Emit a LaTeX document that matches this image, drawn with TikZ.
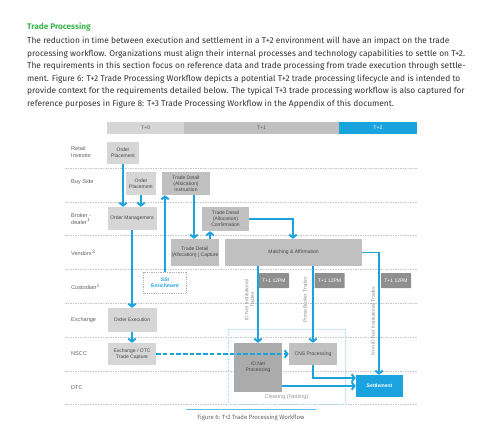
\documentclass[tikz,border=0pt]{standalone}
\usepackage{fontspec}
\setmainfont{Fira Sans}
\newfontfamily\diagfont{Liberation Sans}
\usetikzlibrary{arrows.meta}
\definecolor{flowblue}{HTML}{1BA3DF}
\definecolor{boxgray}{HTML}{D6D6D6}
\definecolor{midgray}{HTML}{C0C0C0}
\definecolor{darkgray}{HTML}{8F8F8F}
\definecolor{idgray}{HTML}{ABABAB}
\definecolor{titlegreen}{HTML}{3BB44A}
\definecolor{textgray}{HTML}{333333}
\tikzstyle{lanebox}=[fill=boxgray, inner sep=1pt, align=center, text=black!72, font=\diagfont\fontsize{5}{6}\selectfont]
\tikzstyle{detailbox}=[lanebox, fill=midgray]
\tikzstyle{timebox}=[inner sep=0pt, minimum height=12pt, text=black!65, font=\diagfont\fontsize{5.2}{6}\selectfont]
\tikzstyle{noonbox}=[lanebox, fill=darkgray, text=white, minimum width=30pt, minimum height=15pt, rounded corners=0.5pt]
\tikzstyle{lanelabel}=[anchor=west, align=left, inner sep=0pt, text=black!62, font=\diagfont\fontsize{5.6}{6.6}\selectfont]
\tikzstyle{flowtag}=[rotate=90, align=center, inner sep=0pt, text=black!45, font=\diagfont\fontsize{5}{5.8}\selectfont]
\tikzstyle{flow}=[draw=flowblue, line width=1.9pt, -{Straight Barb[length=3pt,width=7.5pt]}]
\tikzstyle{lanesep}=[draw=black!22, dashed, dash pattern=on 1.5pt off 1pt, line width=0.45pt]
\newcommand{\lane}{\node[lanebox]}
\newcommand{\detail}{\node[detailbox]}
\newcommand{\noon}{\node[noonbox]}

\begin{document}
\begin{tikzpicture}[x=1pt,y=-1pt]
\useasboundingbox (0,0) rectangle (500,434);

% heading and text
\node[anchor=west, inner sep=0pt, text=titlegreen, font=\bfseries\fontsize{8.2}{9}\selectfont] (title) at (27,27) {Trade Processing};
\node[anchor=north west, inner sep=0pt, align=left, text=textgray, font=\fontsize{8.4}{12.5}\selectfont] (para) at (27,37) {The reduction in time between execution and settlement in a T+2 environment will have an impact on the trade\\
processing workflow. Organizations must align their internal processes and technology capabilities to settle on T+2.\\
The requirements in this section focus on reference data and trade processing from trade execution through settle-\\
ment. Figure 6: T+2 Trade Processing Workflow depicts a potential T+2 trade processing lifecycle and is intended to\\
provide context for the requirements detailed below. The typical T+3 trade processing workflow is also captured for\\
reference purposes in Figure 8: T+3 Trade Processing Workflow in the Appendix of this document.};

% time line
\node[timebox, fill=boxgray, minimum width=77pt] (t0) at (145.5,128) {T+0};
\node[timebox, fill=midgray, minimum width=155pt] (t1) at (261.5,128) {T+1};
\node[timebox, fill=flowblue, text=white, minimum width=78pt] (t2) at (378,128) {T+2};

% lanes
\foreach \y in {168,202,235,269,303,337,371,404}
  \draw[lanesep] (65,\y) -- (417,\y);
\node[lanelabel] (lretail) at (71,152) {Retail\\Investor};
\node[lanelabel] (lbuy) at (71,182) {Buy Side};
\node[lanelabel] (lbroker) at (71,219) {Broker -\\dealer$^{1}$};
\node[lanelabel] (lvendor) at (71,253) {Vendors$^{2}$};
\node[lanelabel] (lcust) at (71,287) {Custodian$^{1}$};
\node[lanelabel] (lexch) at (71,320) {Exchange};
\node[lanelabel] (lnscc) at (71,354) {NSCC};
\node[lanelabel] (ldtc) at (71,388) {DTC};

% clearing
\node[draw=flowblue!35, densely dotted, line width=0.6pt, minimum width=117pt, minimum height=75pt] (clr) at (286.5,366.5) {};
\node[inner sep=0pt, text=black!40, font=\diagfont\fontsize{5.6}{6.6}\selectfont] (clrtxt) at ([yshift=7pt]clr.south) {Clearing (Netting)};

% boxes
\lane (rop) [minimum width=32pt, minimum height=22pt] at (123,153) {Order\\Placement};
\lane (bop) [minimum width=30pt, minimum height=23pt] at (141,183.5) {Order\\Placement};
\detail (tdi) [minimum width=48pt, minimum height=23pt] at (186,183.5) {Trade Detail\\(Allocation)\\Instruction};
\lane (om) [minimum width=49pt, minimum height=23pt] at (132,218.5) {Order Management};
\detail (tdc) [minimum width=47pt, minimum height=24pt] at (225.5,219) {Trade Detail\\(Allocation)\\Confirmation};
\detail (tdcap) [minimum width=48pt, minimum height=27pt] at (195,252.5) {Trade Detail\\(Allocation) | Capture};
\detail (ma) [minimum width=137pt, minimum height=27pt] at (293.5,252.5) {Matching \& Affirmation};
\node[draw=black!30, dashed, dash pattern=on 1pt off 0.8pt, line width=0.4pt, fill=white, align=center, text=flowblue, font=\diagfont\bfseries\fontsize{5}{6}\selectfont, minimum width=43pt, minimum height=21pt] (ssi) at (165,282.5) {SSI\\Enrichment};
\noon (noona) at (274,280.5) {T+1 12PM};
\noon (noonb) at (329.5,280.5) {T+1 12PM};
\noon (noonc) at (396,280.5) {T+1 12PM};
\lane (oe) [minimum width=49pt, minimum height=24pt] at (132,320) {Order Execution};
\lane (otc) [minimum width=48pt, minimum height=22pt] at (132,354) {Exchange / OTC\\Trade Capture};
\node[lanebox, fill=idgray, minimum width=48pt, minimum height=49pt] (idn) at (258,367.5) {ID Net\\Processing};
\detail (cns) [minimum width=48pt, minimum height=22pt] at (313,354) {CNS Processing};
\node[lanebox, fill=flowblue, text=white, font=\diagfont\bfseries\fontsize{5}{6}\selectfont, minimum width=47pt, minimum height=22pt] (set) at (379.5,386) {Settlement};

% flows
\path[flow] (rop.south) -- (rop.south |- om.north);
\path[flow] (bop.south) -- (bop.south |- om.north);
\path[flow] (ssi.north) -- (ssi.north |- tdi.south);
\path[flow] ([xshift=8pt]tdi.south) -- ([xshift=8pt]tdi.south |- tdcap.north);
\path[flow] ([xshift=15pt]tdcap.north) -- ([xshift=15pt]tdcap.north |- tdc.south);
\path[flow] (tdc.east) -| ([xshift=-0.5pt]ma.north);
\path[flow] (om.south) -- (oe.north);
\path[flow] (oe.south) -- (otc.north);
\path[flow, dashed, dash pattern=on 4.5pt off 2.2pt] (otc.east) -- (cns.west);
\path[flow] (idn.north |- ma.south) -- (idn.north);
\path[flow] (cns.north |- ma.south) -- (cns.north);
\path[flow] (ma.east) -| ([xshift=-0.5pt]set.north);
\path[flow] (cns.south) |- ([yshift=8pt]set.west);
\path[flow] (idn.east |- set.west) -- (set.west);

% flow tags
\node[flowtag] (tagid) at (249.5,300) {ID Net Institutional\\Trades};
\node[flowtag] (tagpb) at (305,300) {Prime Broker Trades};
\node[flowtag] (tagnon) at (373,321) {Non-ID Net Institutional Trades};

% caption
\draw[flowblue!70, line width=0.6pt] (186,409) -- (316,409);
\node[inner sep=0pt, text=black!62, font=\fontsize{6}{7}\selectfont] (caption) at (251,418) {Figure 6: T+2 Trade Processing Workflow};
\end{tikzpicture}
\end{document}
